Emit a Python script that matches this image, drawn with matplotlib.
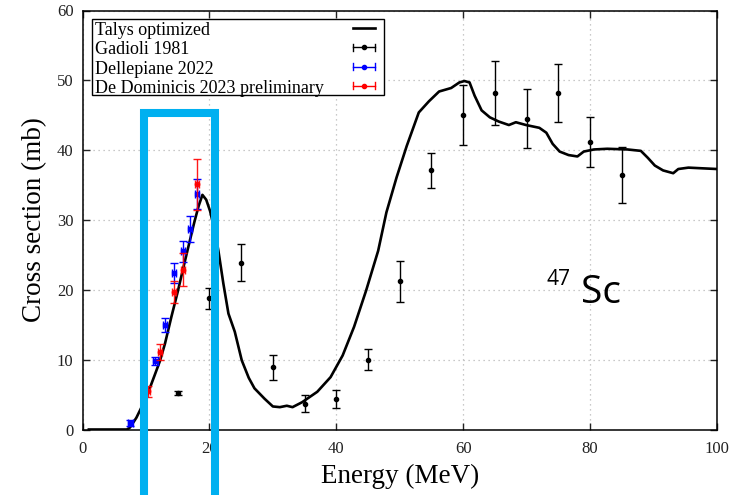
import matplotlib
matplotlib.use("Agg")
import matplotlib.pyplot as plt
from matplotlib.lines import Line2D
from matplotlib.patches import Rectangle

plt.rcParams['font.family'] = ['Liberation Serif', 'DejaVu Serif']

# TALYS optimized excitation function (E in MeV, sigma in mb)
talys_E = [1.0, 7.0, 7.5, 8.5, 9.2, 10.1, 10.6, 11.3, 12.2, 13.0, 14.0, 15.0,
           15.9, 16.8, 17.6, 18.3, 18.9, 19.5, 20.1, 20.8, 21.4, 22.2, 23.0,
           24.0, 25.1, 26.2, 27.1, 28.7, 30.0, 31.1, 32.2, 33.1, 34.6, 37.0,
           39.1, 41.0, 42.8, 44.7, 46.6, 47.9, 49.5, 51.1, 53.0, 54.6, 56.2,
           58.1, 59.4, 60.2, 61.0, 61.8, 62.9, 64.2, 65.6, 67.2, 68.3, 69.9,
           72.0, 73.1, 74.1, 75.2, 76.6, 78.0, 79.0, 80.6, 82.7, 85.9, 88.0,
           89.1, 90.2, 91.5, 93.1, 93.9, 95.5, 97.7, 100.0]
talys_xs = [0.0, 0.0, 0.3, 1.7, 3.0, 4.8, 5.9, 7.6, 9.8, 12.3, 16.1, 19.7,
            23.2, 26.6, 29.6, 32.0, 33.6, 32.9, 31.3, 28.6, 25.7, 20.9, 16.6,
            14.0, 9.9, 7.4, 5.9, 4.4, 3.3, 3.2, 3.4, 3.2, 3.9, 5.4,
            7.5, 10.6, 14.7, 19.9, 25.6, 31.1, 36.1, 40.6, 45.4, 47.0, 48.4,
            48.9, 49.7, 49.9, 49.7, 47.8, 45.7, 44.7, 44.1, 43.6, 44.0, 43.6,
            43.2, 42.5, 40.9, 39.8, 39.3, 39.1, 39.8, 40.1, 40.2, 40.1, 39.9,
            38.9, 37.8, 37.1, 36.7, 37.3, 37.5, 37.4, 37.3]

# Gadioli 1981
gad_E = [15, 20, 25, 30, 35, 40, 45, 50, 55, 60, 65, 70, 75, 80, 85]
gad_xs = [5.2, 18.8, 23.9, 8.9, 3.7, 4.4, 10.0, 21.2, 37.1, 45.1, 48.2, 44.5, 48.2, 41.2, 36.5]
gad_err = [0.3, 1.5, 2.6, 1.8, 1.2, 1.3, 1.5, 2.9, 2.5, 4.3, 4.6, 4.2, 4.2, 3.6, 4.0]

# Dellepiane 2022
del_E = [7.5, 11.5, 13.0, 14.45, 15.8, 17.0, 18.1]
del_xs = [0.9, 9.8, 15.0, 22.4, 25.5, 28.7, 33.7]
del_yerr = [0.4, 0.6, 1.0, 1.4, 1.5, 1.9, 2.1]
del_xerr = [0.4, 0.35, 0.35, 0.35, 0.3, 0.3, 0.3]

# De Dominicis 2023 preliminary
dd_E = [10.4, 12.2, 14.45, 15.9, 18.1]
dd_xs = [5.5, 11.1, 19.7, 22.9, 35.1]
dd_yerr = [0.8, 1.1, 1.6, 2.4, 3.7]
dd_xerr = [0.3, 0.3, 0.3, 0.3, 0.3]

legend_labels = ['Talys optimized', 'Gadioli 1981', 'Dellepiane 2022',
                 'De Dominicis 2023 preliminary']
legend_colors = ['black', 'black', '#0000ff', '#ff0000']

x_ticks = [0, 20, 40, 60, 80, 100]
y_ticks = [0, 10, 20, 30, 40, 50, 60]

W, H = 735, 495
fig = plt.figure(figsize=(W / 100, H / 100), dpi=100)
ax = fig.add_axes([82.5 / W, 1 - 429.5 / H, (717 - 82.5) / W, (429.5 - 10.5) / H])

ax.set_xlim(0, 100)
ax.set_ylim(0, 60)
ax.set_xticks(x_ticks)
ax.set_yticks(y_ticks)
ax.grid(True, color='#b8b8b8', linestyle=(0, (1, 3)), linewidth=0.9)
ax.set_axisbelow(True)
for s in ax.spines.values():
    s.set_linewidth(1.1)
ax.tick_params(direction='in', length=5, width=1, top=True, right=True,
               labelsize=12, colors='#222222')
ax.tick_params(axis='x', pad=8.5)
ax.tick_params(axis='y', pad=6.5)

ax.plot(talys_E, talys_xs, color='black', lw=1.9, zorder=3)

ax.errorbar(gad_E, gad_xs, yerr=gad_err, fmt='o', color='black', ms=3,
            elinewidth=1.0, capsize=2.8, capthick=1.0, zorder=4)
ax.errorbar(del_E, del_xs, yerr=del_yerr, xerr=del_xerr, fmt='s', color='#0000ff',
            ms=3.2, elinewidth=1.0, capsize=2.8, capthick=1.0, zorder=5)
ax.errorbar(dd_E, dd_xs, yerr=dd_yerr, xerr=dd_xerr, fmt='o', color='#ff0000',
            ms=3.2, elinewidth=1.0, capsize=2.8, capthick=1.0, zorder=6, alpha=0.9)

ax.set_xlabel('Energy (MeV)', fontsize=19.5)
ax.set_ylabel('Cross section (mb)', fontsize=19.5)
ax.xaxis.set_label_coords(0.5, -0.083)
ax.yaxis.set_label_coords(-0.056, 0.5)

# Nuclide label
ax.text(73.2, 20.7, '47', fontsize=15, family=['Open Sans', 'DejaVu Sans'],
        ha='left', va='baseline', zorder=7)
ax.text(78.5, 18.1, 'Sc', fontsize=28, family=['Open Sans', 'DejaVu Sans'],
        ha='left', va='baseline', zorder=7)

# Key box, laid out in figure pixels (origin top-left)
px = lambda v: v / W
py = lambda v: 1 - v / H

fig.add_artist(Rectangle((px(92), py(94.5)), px(383.5) - px(92), py(18.5) - py(94.5),
                         transform=fig.transFigure, facecolor='white',
                         edgecolor='black', lw=1.0, zorder=10))
row_base = [35.0, 54.5, 74.0, 93.4]
k0, k1 = 353.0, 375.0
for i, (lab, col) in enumerate(zip(legend_labels, legend_colors)):
    yb = row_base[i]
    yc = yb - 7.5
    fig.text(px(95), py(yb), lab, fontsize=13, ha='left', va='baseline',
             color='black', zorder=11)
    if i == 0:
        fig.add_artist(Line2D([px(k0), px(k1)], [py(yc), py(yc)],
                              transform=fig.transFigure, color=col, lw=1.9,
                              zorder=11))
        continue
    cap = 3.5
    for seg in ([k0, k1], [yc, yc]), ([k0, k0], [yc - cap, yc + cap]), ([k1, k1], [yc - cap, yc + cap]):
        fig.add_artist(Line2D([px(v) for v in seg[0]], [py(v) for v in seg[1]],
                              transform=fig.transFigure, color=col, lw=1.0,
                              zorder=11))
    fig.add_artist(Line2D([px((k0 + k1) / 2)], [py(yc)], marker='o', ms=3,
                          color=col, lw=0, transform=fig.transFigure, zorder=12))

# Highlight box around the low-energy peak
frame = Line2D([px(144), px(144), px(215), px(215)],
               [py(500), py(113), py(113), py(500)],
               transform=fig.transFigure, color='#00b0f0', lw=5.8,
               solid_joinstyle='miter', solid_capstyle='butt', zorder=20)
fig.add_artist(frame)

fig.savefig('out.png', dpi=100)
